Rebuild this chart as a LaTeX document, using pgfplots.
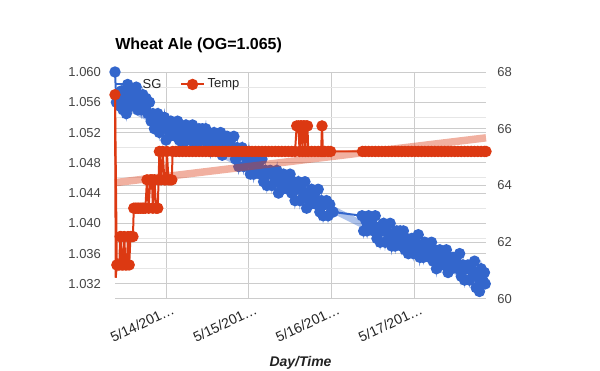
\documentclass[border=0pt]{standalone}
\usepackage{pgfplots}
\pgfplotsset{compat=1.18}
\usepackage{fontspec}
\setmainfont{Liberation Sans}
\definecolor{sgblue}{HTML}{3366CC}
\definecolor{tred}{HTML}{DC3912}
\definecolor{gridc}{HTML}{CCCCCC}
\definecolor{gridm}{HTML}{E6E6E6}
\definecolor{labc}{HTML}{444444}
\definecolor{xlabc}{HTML}{222222}
\begin{document}
\begin{tikzpicture}
\path[use as bounding box] (-86.25pt,-54pt) rectangle (363.75pt,224.25pt);
% ---------- left axis: SG ----------
\begin{axis}[
  at={(0,0)}, anchor=south west,
  scale only axis, width=278.25pt, height=170.25pt,
  xmin=-0.617, xmax=3.869,
  ymin=1.030, ymax=1.060,
  scaled y ticks=false,
  /pgf/number format/assume math mode=true,
  xtick={0,1,2,3},
  xticklabels={5/14/201…,5/15/201…,5/16/201…,5/17/201…},
  x tick label style={rotate=25, anchor=north east, font=\fontsize{10.5}{12}\selectfont, text=xlabc, inner sep=1pt, yshift=-4pt, xshift=3pt},
  ytick={1.032,1.036,1.040,1.044,1.048,1.052,1.056,1.060},
  yticklabels={1.032,1.036,1.040,1.044,1.048,1.052,1.056,1.060},
  y tick label style={font=\fontsize{9.75}{11}\selectfont, text=labc, xshift=-7pt},
  minor y tick num=1,
  extra y ticks={1.030,1.0375,1.045,1.0525},
  extra y tick labels={},
  extra y tick style={grid=major, major grid style={gridc, line width=0.75pt}},
  xmajorgrids, ymajorgrids, yminorgrids,
  major grid style={gridc, line width=0.75pt},
  minor grid style={gridm, line width=0.75pt},
  tick style={draw=none},
  axis line style={draw=none},
  title={Wheat Ale (OG=1.065)},
  title style={at={(axis description cs:0,1)}, anchor=base west, inner sep=0pt, yshift=11.25pt, font=\bfseries\fontsize{12}{14}\selectfont},
  xlabel={Day/Time},
  xlabel style={at={(axis description cs:0.5,0)}, anchor=base, yshift=-51pt, font=\bfseries\itshape\fontsize{10.5}{12}\selectfont, text=xlabc},
  legend style={at={(axis description cs:0,1)}, anchor=north west, draw=none, fill=none,
    font=\fontsize{9.75}{11}\selectfont, text=xlabc, legend columns=2,
    inner xsep=0pt, inner ysep=0pt, yshift=-3pt,
    /tikz/every even column/.append style={column sep=12pt}},
  clip=false,
]
% SG trend line
\addplot[forget plot, sgblue, opacity=0.4, line width=5.25pt] coordinates {(-0.617,1.0562) (3.869,1.0317)};
% SG readings
\addplot[sgblue, line width=1.5pt, mark=*, mark size=3.5pt, mark options={solid, fill=sgblue, draw=sgblue}] coordinates {
(-0.617,1.0600) (-0.60,1.0560) (-0.58,1.0570) (-0.56,1.0555) (-0.54,1.0575) (-0.52,1.0550) (-0.50,1.0565) (-0.48,1.0545) (-0.46,1.0560) (-0.44,1.0575) (-0.42,1.0555) (-0.40,1.0570) (-0.38,1.0560) (-0.36,1.0580) (-0.34,1.0550) (-0.32,1.0570)
(-0.30,1.0550) (-0.28,1.0570) (-0.26,1.0555) (-0.24,1.0565) (-0.22,1.0545) (-0.20,1.0560)
(-0.18,1.0535) (-0.16,1.0545) (-0.14,1.0525) (-0.12,1.0535) (-0.10,1.0545) (-0.08,1.0520) (-0.06,1.0535) (-0.04,1.0525) (-0.02,1.0540)
(0.00,1.0510) (0.02,1.0530) (0.04,1.0515) (0.06,1.0535) (0.08,1.0525) (0.10,1.0530) (0.12,1.0515) (0.14,1.0535) (0.16,1.0510) (0.18,1.0525) (0.20,1.0505) (0.22,1.0520) (0.24,1.0530) (0.26,1.0510) (0.28,1.0525) (0.30,1.0510) (0.32,1.0530) (0.34,1.0500) (0.36,1.0520) (0.38,1.0505) (0.40,1.0525)
(0.42,1.0515) (0.44,1.0525) (0.46,1.0510) (0.48,1.0525) (0.50,1.0500) (0.52,1.0515) (0.54,1.0495) (0.56,1.0510) (0.58,1.0520) (0.60,1.0500) (0.62,1.0510) (0.64,1.0500) (0.66,1.0520) (0.68,1.0490) (0.70,1.0510) (0.72,1.0495) (0.74,1.0515) (0.76,1.0505)
(0.78,1.0510) (0.80,1.0495) (0.82,1.0515) (0.84,1.0485) (0.86,1.0500) (0.88,1.0475) (0.90,1.0490) (0.92,1.0500) (0.94,1.0475) (0.96,1.0490) (0.98,1.0480) (1.00,1.0495) (1.02,1.0465)
(1.04,1.0485) (1.06,1.0465) (1.08,1.0485) (1.10,1.0475) (1.12,1.0480) (1.14,1.0465) (1.16,1.0485) (1.18,1.0455) (1.20,1.0470) (1.22,1.0450) (1.24,1.0465) (1.26,1.0470)
(1.28,1.0450) (1.30,1.0465) (1.32,1.0455) (1.34,1.0470) (1.36,1.0440) (1.38,1.0460) (1.40,1.0445) (1.42,1.0465) (1.44,1.0455) (1.46,1.0460) (1.48,1.0445) (1.50,1.0465)
(1.52,1.0440) (1.54,1.0455) (1.56,1.0430) (1.58,1.0445) (1.60,1.0455) (1.62,1.0430) (1.64,1.0445) (1.66,1.0435) (1.68,1.0455) (1.70,1.0420) (1.72,1.0440) (1.74,1.0425)
(1.76,1.0445) (1.78,1.0435) (1.80,1.0440) (1.82,1.0425) (1.84,1.0445) (1.86,1.0415) (1.88,1.0430) (1.90,1.0410) (1.92,1.0425) (1.94,1.0430) (1.96,1.0410) (1.98,1.0425) (2.00,1.0415) (2.02,1.0415)
(2.37,1.0410) (2.39,1.0390) (2.41,1.0405) (2.43,1.0390) (2.45,1.0410) (2.47,1.0400) (2.49,1.0405) (2.51,1.0390) (2.53,1.0410) (2.55,1.0380) (2.57,1.0395) (2.59,1.0375)
(2.61,1.0390) (2.63,1.0400) (2.65,1.0375) (2.67,1.0390) (2.69,1.0380) (2.71,1.0400) (2.73,1.0370) (2.75,1.0385) (2.77,1.0370) (2.79,1.0390) (2.81,1.0380) (2.83,1.0390)
(2.85,1.0370) (2.87,1.0390) (2.89,1.0365) (2.91,1.0380) (2.93,1.0360) (2.95,1.0370) (2.97,1.0380) (2.99,1.0360) (3.01,1.0375) (3.03,1.0365) (3.05,1.0385) (3.07,1.0355)
(3.09,1.0370) (3.11,1.0355) (3.13,1.0375) (3.15,1.0365) (3.17,1.0370) (3.19,1.0355) (3.21,1.0375) (3.23,1.0350) (3.25,1.0365) (3.27,1.0340) (3.29,1.0355) (3.31,1.0365)
(3.33,1.0345) (3.35,1.0360) (3.37,1.0345) (3.39,1.0365) (3.41,1.0335) (3.43,1.0355) (3.45,1.0340) (3.47,1.0355) (3.49,1.0345) (3.51,1.0355) (3.53,1.0340) (3.55,1.0360)
(3.57,1.0330) (3.59,1.0345) (3.61,1.0325) (3.63,1.0340) (3.65,1.0345) (3.67,1.0325) (3.69,1.0340) (3.71,1.0330) (3.73,1.0350) (3.75,1.0315) (3.77,1.0335) (3.79,1.0310) (3.81,1.0340) (3.83,1.0325) (3.85,1.0335) (3.86,1.0320)
};
\addlegendentry{SG}
\addlegendimage{tred, line width=1.5pt, mark=*, mark size=3.5pt, mark options={solid, fill=tred, draw=tred}}
\addlegendentry{Temp}
\end{axis}
% ---------- right axis: Temp ----------
\begin{axis}[
  at={(0,0)}, anchor=south west,
  scale only axis, width=278.25pt, height=170.25pt,
  xmin=-0.617, xmax=3.869,
  ymin=60, ymax=68,
  axis y line*=right, axis x line=none,
  /pgf/number format/assume math mode=true,
  ytick={60,62,64,66,68},
  yticklabels={60,62,64,66,68},
  y tick label style={font=\fontsize{9.75}{11}\selectfont, text=labc, xshift=5pt},
  tick style={draw=none},
  axis line style={draw=none},
  clip=false,
]
\addplot[forget plot, tred, opacity=0.4, line width=5.6pt] coordinates {(-0.617,64.1) (3.869,65.68)};
% thin start of the temperature trace
\addplot[forget plot, tred, line width=1.5pt] coordinates {(-0.617,67.2) (-0.608,60.75) (-0.595,61.2)};
\addplot[tred, line width=1.5pt, mark=*, mark size=3.5pt, mark options={solid, fill=tred, draw=tred}] coordinates {
(-0.617,67.2) (-0.595,61.2) (-0.58,61.2) (-0.565,61.2) (-0.555,62.2) (-0.545,62.2) (-0.535,61.2) (-0.52,61.2) (-0.505,62.2) (-0.49,61.2) (-0.475,61.2) (-0.46,62.2) (-0.445,61.2) (-0.43,62.2) (-0.415,62.2) (-0.40,62.2) (-0.39,63.2) (-0.37,63.2) (-0.35,63.2) (-0.33,63.2) (-0.31,63.2) (-0.29,63.2) (-0.27,63.2) (-0.25,63.2) (-0.23,64.2) (-0.21,63.2) (-0.19,64.2) (-0.17,64.2) (-0.16,63.2) (-0.14,64.2) (-0.12,63.2) (-0.10,63.2) (-0.09,64.2) (-0.08,65.2) (-0.06,64.2) (-0.04,65.2) (-0.02,64.2) (0.00,64.2) (0.01,65.2) (0.03,64.2) (0.05,64.2) (0.07,64.2) (0.08,65.2)
(0.12,65.2) (0.16,65.2) (0.20,65.2) (0.24,65.2) (0.28,65.2) (0.32,65.2) (0.36,65.2) (0.40,65.2) (0.44,65.2) (0.48,65.2) (0.52,65.2) (0.56,65.2) (0.60,65.2) (0.64,65.2) (0.68,65.2) (0.72,65.2) (0.76,65.2) (0.80,65.2) (0.84,65.2) (0.88,65.2) (0.92,65.2) (0.96,65.2) (1.00,65.2) (1.04,65.2) (1.08,65.2) (1.12,65.2) (1.16,65.2) (1.20,65.2) (1.24,65.2) (1.28,65.2) (1.32,65.2) (1.36,65.2) (1.40,65.2) (1.44,65.2) (1.48,65.2) (1.52,65.2) (1.56,65.2)
(1.58,66.1) (1.60,66.1) (1.615,65.2) (1.625,66.1) (1.64,66.1) (1.65,65.2) (1.66,66.1) (1.675,66.1) (1.685,65.2) (1.695,66.1) (1.71,66.1) (1.72,65.2)
(1.76,65.2) (1.80,65.2) (1.84,65.2) (1.875,65.2) (1.886,66.1) (1.897,65.2) (1.92,65.2) (1.96,65.2) (1.99,65.2)
(2.375,65.2) (2.41,65.2) (2.45,65.2) (2.49,65.2) (2.53,65.2) (2.57,65.2) (2.61,65.2) (2.65,65.2) (2.69,65.2) (2.73,65.2) (2.77,65.2) (2.81,65.2) (2.85,65.2) (2.89,65.2) (2.93,65.2) (2.97,65.2) (3.01,65.2) (3.05,65.2) (3.09,65.2) (3.13,65.2) (3.17,65.2) (3.21,65.2) (3.25,65.2) (3.29,65.2) (3.33,65.2) (3.37,65.2) (3.41,65.2) (3.45,65.2) (3.49,65.2) (3.53,65.2) (3.57,65.2) (3.61,65.2) (3.65,65.2) (3.69,65.2) (3.73,65.2) (3.77,65.2) (3.81,65.2) (3.85,65.2) (3.869,65.2)
};
\end{axis}
\end{tikzpicture}
\end{document}
